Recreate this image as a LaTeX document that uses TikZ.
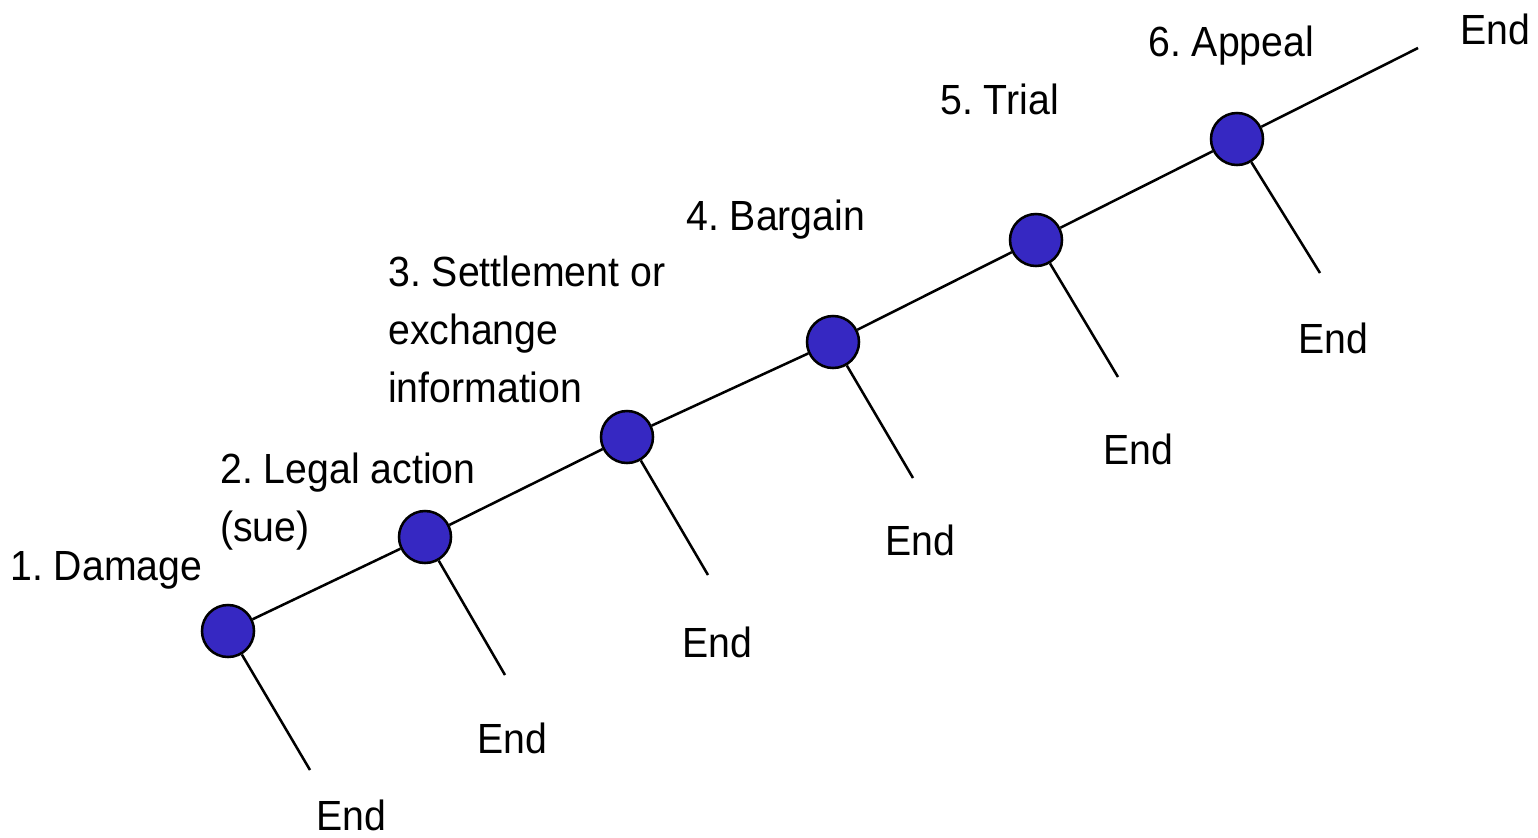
\documentclass[tikz,border=0pt]{standalone}
\usepackage{fontspec}
\setmainfont[FakeStretch=0.93]{Liberation Sans}
\definecolor{stageblue}{RGB}{54,40,194}
\frenchspacing

\begin{document}
\begin{tikzpicture} [x = 0.025cm, y = -0.025cm,
    stage/.style = {circle, draw = black, fill = stageblue, line width = 1.8pt, minimum size = 1.3cm, inner sep = 0pt},
    lbl/.style = {anchor = base west, inner sep = 0pt, align = left, font = \fontsize{30}{41}\selectfont},
    edge/.style = {line width = 1.8pt}]
\useasboundingbox (0, 0) rectangle (1538, 837);
% stages along the main line
\node[stage] (n1) at (228, 631) {};
\node[stage] (n2) at (425, 537) {};
\node[stage] (n3) at (627, 437) {};
\node[stage] (n4) at (833, 342) {};
\node[stage] (n5) at (1036, 240) {};
\node[stage] (n6) at (1237, 139) {};
\coordinate (top) at (1418, 48);
% free ends of the branches
\coordinate (b1) at (310, 770);
\coordinate (b2) at (505, 675);
\coordinate (b3) at (708, 575);
\coordinate (b4) at (913, 478);
\coordinate (b5) at (1118, 377);
\coordinate (b6) at (1320, 273);
\draw[edge] (n1) -- (n2);
\draw[edge] (n2) -- (n3);
\draw[edge] (n3) -- (n4);
\draw[edge] (n4) -- (n5);
\draw[edge] (n5) -- (n6);
\draw[edge] (n6) -- (top);
\draw[edge] (n1) -- (b1);
\draw[edge] (n2) -- (b2);
\draw[edge] (n3) -- (b3);
\draw[edge] (n4) -- (b4);
\draw[edge] (n5) -- (b5);
\draw[edge] (n6) -- (b6);
% stage names (multi-line ones sit on their last line)
\node[lbl] (l1) at (10, 580) {1. Damage};
\node[lbl] (l2) at (220, 541) {2. Legal action\\(sue)};
\node[lbl] (l3) at (388, 402) {3. Settlement or\\exchange\\information};
\node[lbl] (l4) at (686, 230) {4. Bargain};
\node[lbl] (l5) at (940, 114) {5. Trial};
\node[lbl] (l6) at (1148, 56) {6. Appeal};
% outcomes
\node[lbl] (e1) at (316, 830) {End};
\node[lbl] (e2) at (477, 753) {End};
\node[lbl] (e3) at (682, 657) {End};
\node[lbl] (e4) at (885, 555) {End};
\node[lbl] (e5) at (1103, 464) {End};
\node[lbl] (e6) at (1298, 353) {End};
\node[lbl] (e7) at (1460, 44) {End};
\end{tikzpicture}
\end{document}
